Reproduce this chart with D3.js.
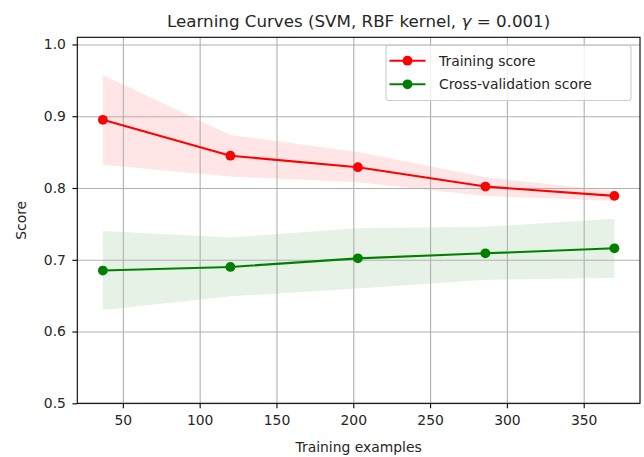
<!DOCTYPE html>
<html>
<head>
<meta charset="utf-8">
<script src="https://cdn.jsdelivr.net/npm/d3@7"></script>
<style>
  body { margin: 0; background: #fff; }
  text { font-family: "DejaVu Sans", sans-serif; fill: #262626; }
</style>
</head>
<body>
<div class="chart"></div>
<script>
// data
const trainSizes = [37, 120, 203, 286, 370];
const trainMean = [0.895, 0.845, 0.829, 0.802, 0.789];
const trainStd = [0.0625, 0.029, 0.021, 0.013, 0.007];
const cvMean = [0.685, 0.690, 0.702, 0.709, 0.716];
const cvStd = [0.055, 0.041, 0.042, 0.037, 0.041];
const xTicks = [50, 100, 150, 200, 250, 300, 350];
const yTicks = [0.5, 0.6, 0.7, 0.8, 0.9, 1.0];
const seriesNames = ["Training score", "Cross-validation score"];
const seriesColors = ["#ff0000", "#008000"];

let width = 644, height = 457;
let margin = {top: 37.3, right: 4, bottom: 53.7, left: 77.3};
let w = width - margin.left - margin.right;
let h = height - margin.top - margin.bottom;

let svg = d3.select('.chart')
  .append('svg')
  .attr('width', width)
  .attr('height', height);

let g = svg.append("g")
  .attr("transform", "translate(" + margin.left + "," + margin.top + ")");

let x = d3.scaleLinear().domain([20.35, 386.65]).range([0, w]);
let y = d3.scaleLinear().domain([0.5, 1.01]).range([h, 0]);

// gridlines
g.append("g")
  .attr("class", "xgrid")
  .attr("transform", "translate(0," + h + ")")
  .call(d3.axisBottom(x).tickValues(xTicks).tickSize(-h).tickFormat(""))
  .call(s => s.select(".domain").remove());
g.append("g")
  .attr("class", "ygrid")
  .call(d3.axisLeft(y).tickValues(yTicks).tickSize(-w).tickFormat(""))
  .call(s => s.select(".domain").remove());
g.selectAll(".xgrid line, .ygrid line")
  .attr("stroke", "#b0b0b0")
  .attr("stroke-width", 1.1);

// std bands
let series = [
  {mean: trainMean, std: trainStd},
  {mean: cvMean, std: cvStd}
];

series.forEach(function(s, k) {
  let pts = trainSizes.map((t, i) => ({x: t, m: s.mean[i], sd: s.std[i]}));
  let area = d3.area()
    .x(d => x(d.x))
    .y0(d => y(d.m - d.sd))
    .y1(d => y(d.m + d.sd));
  g.insert("path", ".xgrid")
    .datum(pts)
    .attr("d", area)
    .attr("fill", seriesColors[k])
    .attr("fill-opacity", 0.1);
});

series.forEach(function(s, k) {
  let pts = trainSizes.map((t, i) => ({x: t, m: s.mean[i]}));
  let line = d3.line().x(d => x(d.x)).y(d => y(d.m));
  g.append("path")
    .datum(pts)
    .attr("d", line)
    .attr("fill", "none")
    .attr("stroke", seriesColors[k])
    .attr("stroke-width", 2.1);
  g.selectAll(".dot" + k)
    .data(pts)
    .enter()
    .append("circle")
    .attr("cx", d => x(d.x))
    .attr("cy", d => y(d.m))
    .attr("r", 4.9)
    .attr("fill", seriesColors[k]);
});

// axes
let xAxis = g.append("g")
  .attr("transform", "translate(0," + h + ")")
  .call(d3.axisBottom(x).tickValues(xTicks).tickSize(4.9).tickPadding(7));
let yAxis = g.append("g")
  .call(d3.axisLeft(y).tickValues(yTicks).tickSize(4.9).tickPadding(6.5)
    .tickFormat(d3.format(".1f")));
[xAxis, yAxis].forEach(a => {
  a.select(".domain").remove();
  a.selectAll(".tick line").attr("stroke", "#000").attr("stroke-width", 1.1);
  a.selectAll(".tick text")
    .style("font-family", "DejaVu Sans")
    .style("font-size", "13.9px")
    .attr("fill", "#262626");
});

// spines
g.append("rect")
  .attr("width", w)
  .attr("height", h)
  .attr("fill", "none")
  .attr("stroke", "#000")
  .attr("stroke-width", 1.1);

// title and labels
let title = svg.append("text")
  .attr("x", margin.left + w / 2)
  .attr("y", 27)
  .attr("text-anchor", "middle")
  .style("font-size", "16.7px");
title.append("tspan").text("Learning Curves (SVM, RBF kernel, ");
title.append("tspan").attr("font-style", "italic").text("\u03b3");
title.append("tspan").text(" = 0.001)");

svg.append("text")
  .attr("x", margin.left + w / 2)
  .attr("y", 452)
  .attr("text-anchor", "middle")
  .style("font-size", "13.9px")
  .text("Training examples");

svg.append("text")
  .attr("transform", "translate(26," + (margin.top + h / 2) + ") rotate(-90)")
  .attr("text-anchor", "middle")
  .style("font-size", "13.9px")
  .text("Score");

// legend
let legend = svg.append("g").attr("transform", "translate(386,45.5)");
legend.append("rect")
  .attr("width", 245)
  .attr("height", 55)
  .attr("rx", 2.8)
  .attr("fill", "#fff")
  .attr("fill-opacity", 0.8)
  .attr("stroke", "#cccccc")
  .attr("stroke-width", 1.1);
seriesNames.forEach(function(name, i) {
  let cy = 15.2 + i * 23.6;
  legend.append("line")
    .attr("x1", 3.5).attr("x2", 39.5)
    .attr("y1", cy).attr("y2", cy)
    .attr("stroke", seriesColors[i])
    .attr("stroke-width", 2.1);
  legend.append("circle")
    .attr("cx", 21.5).attr("cy", cy).attr("r", 4.9)
    .attr("fill", seriesColors[i]);
  legend.append("text")
    .attr("x", 53)
    .attr("y", cy + 5)
    .style("font-size", "13.9px")
    .text(name);
});
</script>
</body>
</html>
